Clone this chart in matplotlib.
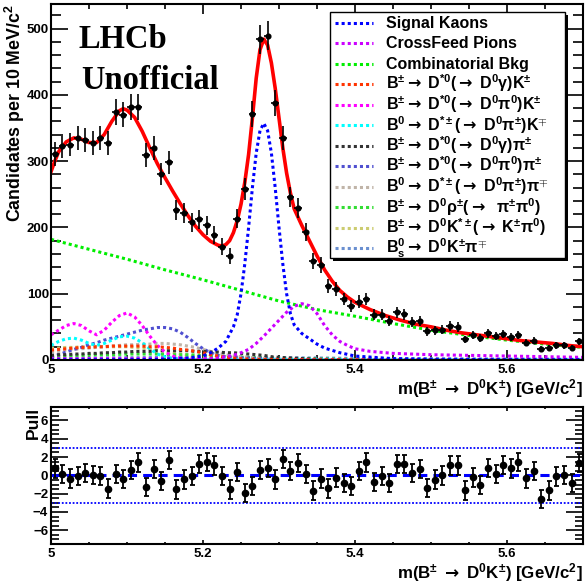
import numpy as np
import matplotlib
matplotlib.use("Agg")
import matplotlib.pyplot as plt
from matplotlib.patches import Rectangle
from matplotlib.ticker import MultipleLocator

plt.rcParams['font.family'] = ['Liberation Sans', 'DejaVu Sans']
plt.rcParams['font.weight'] = 'bold'
plt.rcParams['axes.labelweight'] = 'bold'
plt.rcParams['mathtext.fontset'] = 'custom'
plt.rcParams['mathtext.rm'] = 'Liberation Sans:bold'
plt.rcParams['mathtext.it'] = 'Liberation Sans:bold'
plt.rcParams['mathtext.bf'] = 'Liberation Sans:bold'
plt.rcParams['mathtext.sf'] = 'DejaVu Sans:bold'
plt.rcParams['axes.unicode_minus'] = True

# ---------------- data ----------------
bin_edges = np.round(np.arange(5.0, 5.7001, 0.01), 3)
counts = [311, 323, 325, 335, 332, 328, 335, 327, 374, 370,
          381, 381, 309, 320, 280, 298, 226, 222, 208, 212,
          203, 189, 171, 157, 213, 258, 371, 484, 489, 388,
          335, 246, 229, 193, 149, 143, 111, 107, 92, 82,
          88, 92, 68, 68, 59, 72, 69, 58, 59, 43,
          45, 46, 51, 50, 31, 38, 33, 40, 36, 39,
          35, 38, 26, 29, 17, 18, 22, 22, 18, 28]
pulls = [0.76, 0.18, -0.36, -0.04, 0.25, 0.07, -0.07, -1.45, 0.18, -0.40,
         0.55, 1.42, -1.24, 0.73, -0.62, 1.64, -1.53, -0.44, -0.04, 1.27,
         1.49, 1.09, -0.07, -1.53, 0.40, -1.93, -1.20, 0.58, 0.80, -0.44,
         1.82, 0.51, 1.38, 0.11, -1.67, -0.36, -1.42, -0.25, -0.87, -1.13,
         0.51, 1.42, -0.73, -0.07, -0.84, 1.24, 1.27, 0.29, 0.73, -1.35,
         -0.47, 0.00, 1.09, 1.09, -1.64, -0.22, -1.02, 0.80, 0.11, 1.13,
         0.76, 1.49, -0.33, 0.51, -2.58, -1.64, -0.11, 0.04, -0.87, 1.38]

# total fit (red)
fit_x = [5.000, 5.005, 5.010, 5.020, 5.030, 5.040, 5.050, 5.060, 5.070, 5.080,
         5.090, 5.095, 5.100, 5.110, 5.120, 5.130, 5.140, 5.150, 5.160, 5.170,
         5.180, 5.190, 5.200, 5.210, 5.220, 5.225, 5.230, 5.235, 5.240, 5.245,
         5.250, 5.255, 5.260, 5.265, 5.270, 5.275, 5.280, 5.285, 5.290, 5.295,
         5.300, 5.305, 5.310, 5.315, 5.320, 5.330, 5.340, 5.350, 5.360, 5.370,
         5.380, 5.390, 5.400, 5.420, 5.440, 5.460, 5.480, 5.500, 5.520, 5.540,
         5.560, 5.580, 5.600, 5.620, 5.640, 5.660, 5.680, 5.700]
fit_y = [284, 300, 314, 329, 335, 333, 328, 328, 340, 360,
         376, 379, 377, 366, 345, 320, 296, 275, 255, 236,
         218, 202, 189, 179, 173, 172, 174, 180, 192, 210,
         235, 268, 310, 365, 425, 468, 484, 475, 448, 410,
         365, 320, 282, 252, 228, 203, 180, 157, 136, 119,
         105, 95, 87, 76, 67, 60, 54, 50, 45, 41,
         38, 35, 32, 29, 27, 25, 22, 20]

# signal kaons (blue)
sig_x = [5.000, 5.100, 5.150, 5.180, 5.200, 5.210, 5.220, 5.230, 5.240, 5.245,
         5.250, 5.255, 5.260, 5.265, 5.270, 5.275, 5.280, 5.285, 5.290, 5.295,
         5.300, 5.305, 5.310, 5.315, 5.320, 5.330, 5.340, 5.350, 5.360, 5.380,
         5.400, 5.450, 5.500, 5.600, 5.700]
sig_y = [0.2, 0.5, 1, 3, 6, 11, 18, 28, 50, 68,
         100, 145, 200, 260, 312, 346, 357, 346, 312, 260,
         200, 145, 100, 70, 53, 40, 32, 24, 18, 11,
         6, 2, 1, 0.5, 0.3]

# crossfeed pions (violet)
xf_x = [5.000, 5.100, 5.200, 5.220, 5.240, 5.250, 5.260, 5.270, 5.280, 5.290,
        5.300, 5.310, 5.320, 5.330, 5.340, 5.350, 5.360, 5.370, 5.380, 5.390,
        5.400, 5.420, 5.450, 5.500, 5.550, 5.600, 5.650, 5.700]
xf_y = [2, 2, 2, 3, 7, 11, 16, 25, 36, 48,
        60, 72, 81, 85, 82, 70, 52, 38, 28, 22,
        17, 13, 10, 8, 7, 6, 5, 4]

# combinatorial background (green)
comb_x = [5.00, 5.05, 5.10, 5.15, 5.20, 5.25, 5.30, 5.35, 5.40, 5.45,
          5.50, 5.55, 5.60, 5.65, 5.70]
comb_y = [182, 167, 152, 136, 121, 105, 89, 76, 66, 55,
          45, 37, 30, 24, 19]

# peaking / partially reconstructed backgrounds on a common grid
bkg_x = [5.00, 5.01, 5.02, 5.03, 5.04, 5.05, 5.06, 5.07, 5.08, 5.09,
         5.10, 5.11, 5.12, 5.13, 5.14, 5.15, 5.16, 5.17, 5.18, 5.19,
         5.20, 5.21, 5.22, 5.23, 5.24, 5.25, 5.26, 5.27, 5.28, 5.29,
         5.30, 5.35, 5.40, 5.50, 5.60, 5.70]
dstg_k = [15, 16, 17, 18, 19, 19, 20, 20, 21, 21,
          21, 21, 21, 20, 20, 19, 18, 16, 15, 13,
          11, 8, 6, 4, 3, 2, 1.5, 1, 0.8, 0.6,
          0.5, 0.3, 0.2, 0.1, 0.1, 0.1]
dstpi0_k = [38, 45, 52, 55, 52, 44, 38, 45, 57, 67,
            71, 65, 52, 36, 22, 12, 6, 3, 1.5, 1,
            0.5, 0.4, 0.3, 0.3, 0.2, 0.2, 0.2, 0.2, 0.2, 0.2,
            0.2, 0.1, 0.1, 0.1, 0.1, 0.1]
dstc_k = [22, 28, 32, 33, 30, 25, 22, 25, 30, 35,
          36, 33, 26, 17, 9, 5, 2.5, 1.5, 1, 0.5,
          0.4, 0.3, 0.3, 0.2, 0.2, 0.2, 0.2, 0.2, 0.2, 0.2,
          0.2, 0.1, 0.1, 0.1, 0.1, 0.1]
dstg_pi = [7, 8, 8, 9, 9, 10, 10, 11, 11, 12,
           12, 13, 13, 13, 14, 14, 14, 14, 14, 13,
           13, 12, 12, 11, 11, 10, 9, 8, 7, 5,
           4, 1, 0.5, 0.3, 0.2, 0.2]
dstpi0_pi = [5, 8, 12, 16, 19, 23, 26, 30, 33, 36,
             39, 42, 45, 47, 49, 49, 47, 42, 34, 25,
             17, 11, 7, 5, 4, 3, 3, 2, 2, 1.5,
             1, 0.5, 0.3, 0.2, 0.2, 0.2]
dstc_pi = [12, 13, 15, 16, 17, 18, 19, 20, 21, 22,
           23, 23, 24, 24, 25, 25, 24, 23, 21, 19,
           16, 13, 10, 8, 6, 5, 4, 3, 2.5, 2,
           1.5, 0.7, 0.4, 0.2, 0.2, 0.2]
rho_pi = [5, 5.5, 6, 6.5, 7, 7.5, 8, 8, 8, 8.5,
          9, 9, 9, 9, 9, 8.5, 8, 8, 8, 7.5,
          7, 6.5, 6, 5.5, 5, 4.5, 4, 3.5, 3, 2.8,
          2.5, 1.5, 1, 0.5, 0.3, 0.2]
kst_k = [18, 18, 19, 19, 20, 20, 20, 20, 20, 20,
         20, 19, 18, 17, 15, 13, 11, 9, 7, 5,
         4, 3, 2, 1.5, 1, 0.7, 0.5, 0.5, 0.4, 0.4,
         0.3, 0.2, 0.2, 0.1, 0.1, 0.1]
bs_dkpi = [3, 3, 3, 3, 3, 3, 3.2, 3.2, 3.3, 3.4,
           3.5, 3.5, 3.6, 3.7, 3.8, 3.8, 3.9, 4, 4, 4,
           4, 4, 4, 3.9, 3.9, 3.8, 3.8, 3.7, 3.6, 3.6,
           3.5, 3, 2.5, 2, 1.5, 1]

AR = '$\\mathsf{\\rightarrow}$'
labels = ['Signal Kaons', 'CrossFeed Pions', 'Combinatorial Bkg',
          'B$^{\\pm}$' + AR + ' D$^{*0}$(' + AR + ' D$^{0}$γ)K$^{\\pm}$',
          'B$^{\\pm}$' + AR + ' D$^{*0}$(' + AR + ' D$^{0}$π$^{0}$)K$^{\\pm}$',
          'B$^{0}$' + AR + ' D$^{*\\pm}$(' + AR + ' D$^{0}$π$^{\\pm}$)K$^{\\mp}$',
          'B$^{\\pm}$' + AR + ' D$^{*0}$(' + AR + ' D$^{0}$γ)π$^{\\pm}$',
          'B$^{\\pm}$' + AR + ' D$^{*0}$(' + AR + ' D$^{0}$π$^{0}$)π$^{\\pm}$',
          'B$^{0}$' + AR + ' D$^{*\\pm}$(' + AR + ' D$^{0}$π$^{\\pm}$)π$^{\\mp}$',
          'B$^{\\pm}$' + AR + ' D$^{0}$ρ$^{\\pm}$(' + AR + '  π$^{\\pm}$π$^{0}$)',
          'B$^{\\pm}$' + AR + ' D$^{0}$K$^{*\\pm}$(' + AR + ' K$^{\\pm}$π$^{0}$)',
          'B$_{s}^{0}$' + AR + ' D$^{0}$K$^{\\pm}$π$^{\\mp}$']
colors = ['#0000ff', '#cc00ff', '#00ee00', '#ff3300', '#ff00ff', '#00ffff',
          '#333333', '#5050d0', '#c0b4a8', '#33dd33', '#cccc70', '#6a8fd0']

# ---------------- figure ----------------
W, H = 587, 583
fig = plt.figure(figsize=(W / 100, H / 100), dpi=100)
ax = fig.add_axes([51 / W, (H - 360) / H, 532 / W, 356 / H])
axp = fig.add_axes([51 / W, (H - 544) / H, 532 / W, 137.3 / H])

def ax_x(px):
    return (px - 51) / 532.0

def ax_y(py):
    return (360 - py) / 356.0

dot = dict(linestyle=(0, (1, 1)), lw=2.2, dash_capstyle='butt')

comps = [(bkg_x, bs_dkpi, 11), (bkg_x, kst_k, 10), (bkg_x, rho_pi, 9),
         (bkg_x, dstc_pi, 8), (bkg_x, dstpi0_pi, 7), (bkg_x, dstg_pi, 6),
         (bkg_x, dstc_k, 5), (bkg_x, dstpi0_k, 4), (bkg_x, dstg_k, 3),
         (comb_x, comb_y, 2), (xf_x, xf_y, 1), (sig_x, sig_y, 0)]
for xs, ys, i in comps:
    ax.plot(xs, ys, color=colors[i], label=labels[i], **dot)

ax.plot(fit_x, fit_y, color='#ff0000', lw=2.6, solid_joinstyle='round')

centers = bin_edges[:-1] + 0.005
cnt = np.array(counts, dtype=float)
ax.errorbar(centers, cnt, xerr=0.005, yerr=np.sqrt(cnt), fmt='o', ms=3.4,
            color='black', ecolor='black', elinewidth=1.2, capsize=0, zorder=5)

ax.set_xlim(5.0, 5.7)
ax.set_ylim(0, 537)

# legend box (ROOT style with black shadow)
lx0, lx1, ly0, ly1 = 330, 565, 12, 258
ax.add_patch(Rectangle((ax_x(lx0 + 3), ax_y(ly1 + 3)), ax_x(lx1 + 3) - ax_x(lx0 + 3),
                       ax_y(ly0 + 3) - ax_y(ly1 + 3), transform=ax.transAxes,
                       facecolor='black', edgecolor='black', lw=0, zorder=20,
                       clip_on=False))
ax.add_patch(Rectangle((ax_x(lx0), ax_y(ly1)), ax_x(lx1) - ax_x(lx0),
                       ax_y(ly0) - ax_y(ly1), transform=ax.transAxes,
                       facecolor='white', edgecolor='black', lw=1.0, zorder=21,
                       clip_on=False))
row0, drow = 22.7, 20.5
for i, (lab, c) in enumerate(zip(labels, colors)):
    yc = row0 + i * drow
    ax.plot([ax_x(335), ax_x(373)], [ax_y(yc), ax_y(yc)], transform=ax.transAxes,
            color=c, zorder=22, clip_on=False, **dot)
    ax.text(ax_x(386), ax_y(yc + 5.3), lab, transform=ax.transAxes, fontsize=11.5,
            ha='left', va='baseline', zorder=23)

ax.text(0.0526, 0.876, 'LHCb', transform=ax.transAxes, family='Liberation Serif',
        weight='bold', fontsize=23.5, va='baseline', ha='left')
ax.text(0.0564, 0.761, 'Unofficial', transform=ax.transAxes, family='Liberation Serif',
        weight='bold', fontsize=23.5, va='baseline', ha='left')

xlab = 'm(B$^{\\pm}$ ' + AR + ' D$^{0}$K$^{\\pm}$) [GeV/c$^{2}$]'
ax.set_xlabel(xlab, fontsize=12.2, loc='right')
ax.xaxis.set_label_coords(1.0, -0.048)
ax.set_ylabel('Candidates per 10 MeV/c$^{2}$', fontsize=12.8, loc='top')
ax.yaxis.set_label_coords(-0.0451, 1.0)

# pull panel
axp.axhline(3, color='#0000ff', lw=1.3, linestyle=(0, (1, 1)))
axp.axhline(-3, color='#0000ff', lw=1.3, linestyle=(0, (1, 1)))
axp.axhline(0, color='#0000ff', lw=2.2, linestyle=(0, (3, 2)))
axp.errorbar(centers, pulls, yerr=1.0, fmt='o', ms=4.5, color='black',
             ecolor='black', elinewidth=1.3, capsize=1.8, capthick=1.3, zorder=5)
axp.set_xlim(5.0, 5.7)
axp.set_ylim(-7.5, 7.5)
axp.set_xlabel(xlab, fontsize=12.2, loc='right')
axp.xaxis.set_label_coords(1.0, -0.124)
axp.set_ylabel('Pull', fontsize=12.5, loc='top')
axp.yaxis.set_label_coords(-0.0188, 1.0)

def fmt_x(v, p):
    return '%g' % round(v, 3)

for a in (ax, axp):
    for s in a.spines.values():
        s.set_linewidth(1.5)
    a.xaxis.set_major_locator(MultipleLocator(0.2))
    a.xaxis.set_minor_locator(MultipleLocator(0.05))
    a.xaxis.set_major_formatter(plt.FuncFormatter(fmt_x))
    a.tick_params(which='both', direction='in', top=True, right=True, width=1.2,
                  labelsize=9.5)
    a.tick_params(axis='x', which='major', pad=3)

ax.yaxis.set_major_locator(MultipleLocator(100))
ax.yaxis.set_minor_locator(MultipleLocator(20))
ax.tick_params(axis='x', which='major', length=7.5)
ax.tick_params(axis='x', which='minor', length=3.8)
ax.tick_params(axis='y', which='major', length=12, pad=1.5)
ax.tick_params(axis='y', which='minor', length=7)

axp.yaxis.set_major_locator(MultipleLocator(2))
axp.yaxis.set_minor_locator(MultipleLocator(0.5))
axp.tick_params(axis='x', which='major', length=3.2)
axp.tick_params(axis='x', which='minor', length=1.6)
axp.tick_params(axis='y', which='major', length=12, pad=2)
axp.tick_params(axis='y', which='minor', length=6)

fig.savefig('out.png', dpi=100)
